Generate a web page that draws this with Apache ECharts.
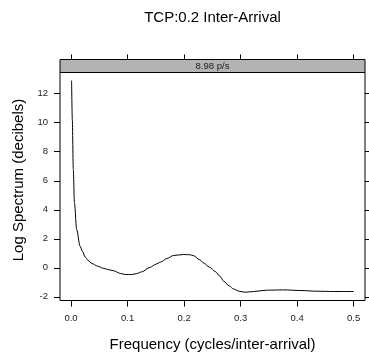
<!DOCTYPE html>
<html>
<head>
<meta charset="utf-8">
<script src="https://cdn.jsdelivr.net/npm/echarts@6/dist/echarts.min.js"></script>
<style>
html,body{margin:0;padding:0;background:#fff;}
#chart{width:369px;height:358px;}
</style>
</head>
<body>
<div id="chart"></div>
<script>
var chartTitle = "TCP:0.2 Inter-Arrival";
var panelLabel = "8.98 p/s";
var xTitle = "Frequency (cycles/inter-arrival)";
var yTitle = "Log Spectrum (decibels)";
var xTicks = [0, 0.1, 0.2, 0.3, 0.4, 0.5];
var yTicks = [-2, 0, 2, 4, 6, 8, 10, 12];
var freq = [0.001, 0.0023, 0.004, 0.006, 0.010, 0.016, 0.020, 0.025, 0.030, 0.037, 0.047, 0.057, 0.066, 0.075, 0.087, 0.096, 0.107, 0.116, 0.125, 0.140, 0.150, 0.158, 0.170, 0.181, 0.199, 0.210, 0.216, 0.228, 0.234, 0.245, 0.255, 0.264, 0.270, 0.280, 0.287, 0.298, 0.308, 0.323, 0.346, 0.376, 0.405, 0.435, 0.464, 0.500];
var spec = [12.9, 10.2, 6.8, 4.5, 2.64, 1.49, 1.15, 0.75, 0.52, 0.30, 0.12, -0.03, -0.12, -0.2, -0.38, -0.46, -0.46, -0.40, -0.28, 0.04, 0.25, 0.39, 0.65, 0.85, 0.92, 0.90, 0.85, 0.55, 0.35, 0.05, -0.25, -0.6, -0.92, -1.25, -1.45, -1.62, -1.68, -1.63, -1.54, -1.52, -1.56, -1.61, -1.63, -1.63];

var seriesData = freq.map(function (f, i) { return [f, spec[i]]; });
var FONT = "Liberation Sans, Arial, Helvetica, sans-serif";
var chart = echarts.init(document.getElementById('chart'), null, {renderer: 'canvas'});
var option = {
  animation: false,
  grid: {left: 60, right: 4, top: 72.5, bottom: 57.5, show: true, borderColor: '#000', borderWidth: 1, backgroundColor: 'transparent'},
  xAxis: [{
    type: 'value', min: -0.0195, max: 0.52, position: 'bottom',
    axisLine: {show: false, onZero: false}, splitLine: {show: false},
    axisTick: {show: true, customValues: xTicks, length: 6, lineStyle: {color: '#000', width: 1}},
    axisLabel: {show: true, customValues: xTicks, margin: 13, fontSize: 9.5, color: '#222', fontFamily: FONT,
      formatter: function (v) { return v.toFixed(1); }}
  }, {
    type: 'value', min: -0.0195, max: 0.52, position: 'top', offset: 13,
    axisLine: {show: false, onZero: false}, splitLine: {show: false},
    axisTick: {show: true, customValues: xTicks, length: 5, lineStyle: {color: '#000', width: 1}},
    axisLabel: {show: false}
  }],
  yAxis: [{
    type: 'value', min: -2.25, max: 13.46, position: 'left',
    axisLine: {show: false, onZero: false}, splitLine: {show: false},
    axisTick: {show: true, customValues: yTicks, length: 6, lineStyle: {color: '#000', width: 1}},
    axisLabel: {show: true, customValues: yTicks, margin: 12, fontSize: 9.5, color: '#222', fontFamily: FONT}
  }, {
    type: 'value', min: -2.25, max: 13.46, position: 'right',
    axisLine: {show: false, onZero: false}, splitLine: {show: false},
    axisTick: {show: true, customValues: yTicks, length: 5, lineStyle: {color: '#000', width: 1}},
    axisLabel: {show: false}
  }],
  series: [{
    type: 'line', xAxisIndex: 0, yAxisIndex: 0, data: seriesData,
    showSymbol: false, smooth: 0.3, smoothMonotone: 'x',
    lineStyle: {color: '#000', width: 1}
  }],
  graphic: [
    {type: 'rect', shape: {x: 60, y: 59.5, width: 305, height: 13}, style: {fill: '#b3b3b3', stroke: '#000', lineWidth: 1}, z: 10},
    {type: 'text', x: 212.5, y: 66.5, style: {text: panelLabel, fontSize: 9.6, fontFamily: FONT, fill: '#222', align: 'center', verticalAlign: 'middle'}, z: 11},
    {type: 'text', x: 212.5, y: 17.5, style: {text: chartTitle, fontSize: 15, fontFamily: FONT, fill: '#000', align: 'center', verticalAlign: 'middle'}},
    {type: 'text', x: 212.5, y: 344.5, style: {text: xTitle, fontSize: 15, fontFamily: FONT, fill: '#000', align: 'center', verticalAlign: 'middle'}},
    {type: 'text', x: 19, y: 180, rotation: Math.PI / 2, style: {text: yTitle, fontSize: 15, fontFamily: FONT, fill: '#000', align: 'center', verticalAlign: 'middle'}}
  ]
};
chart.setOption(option);
</script>
</body>
</html>
